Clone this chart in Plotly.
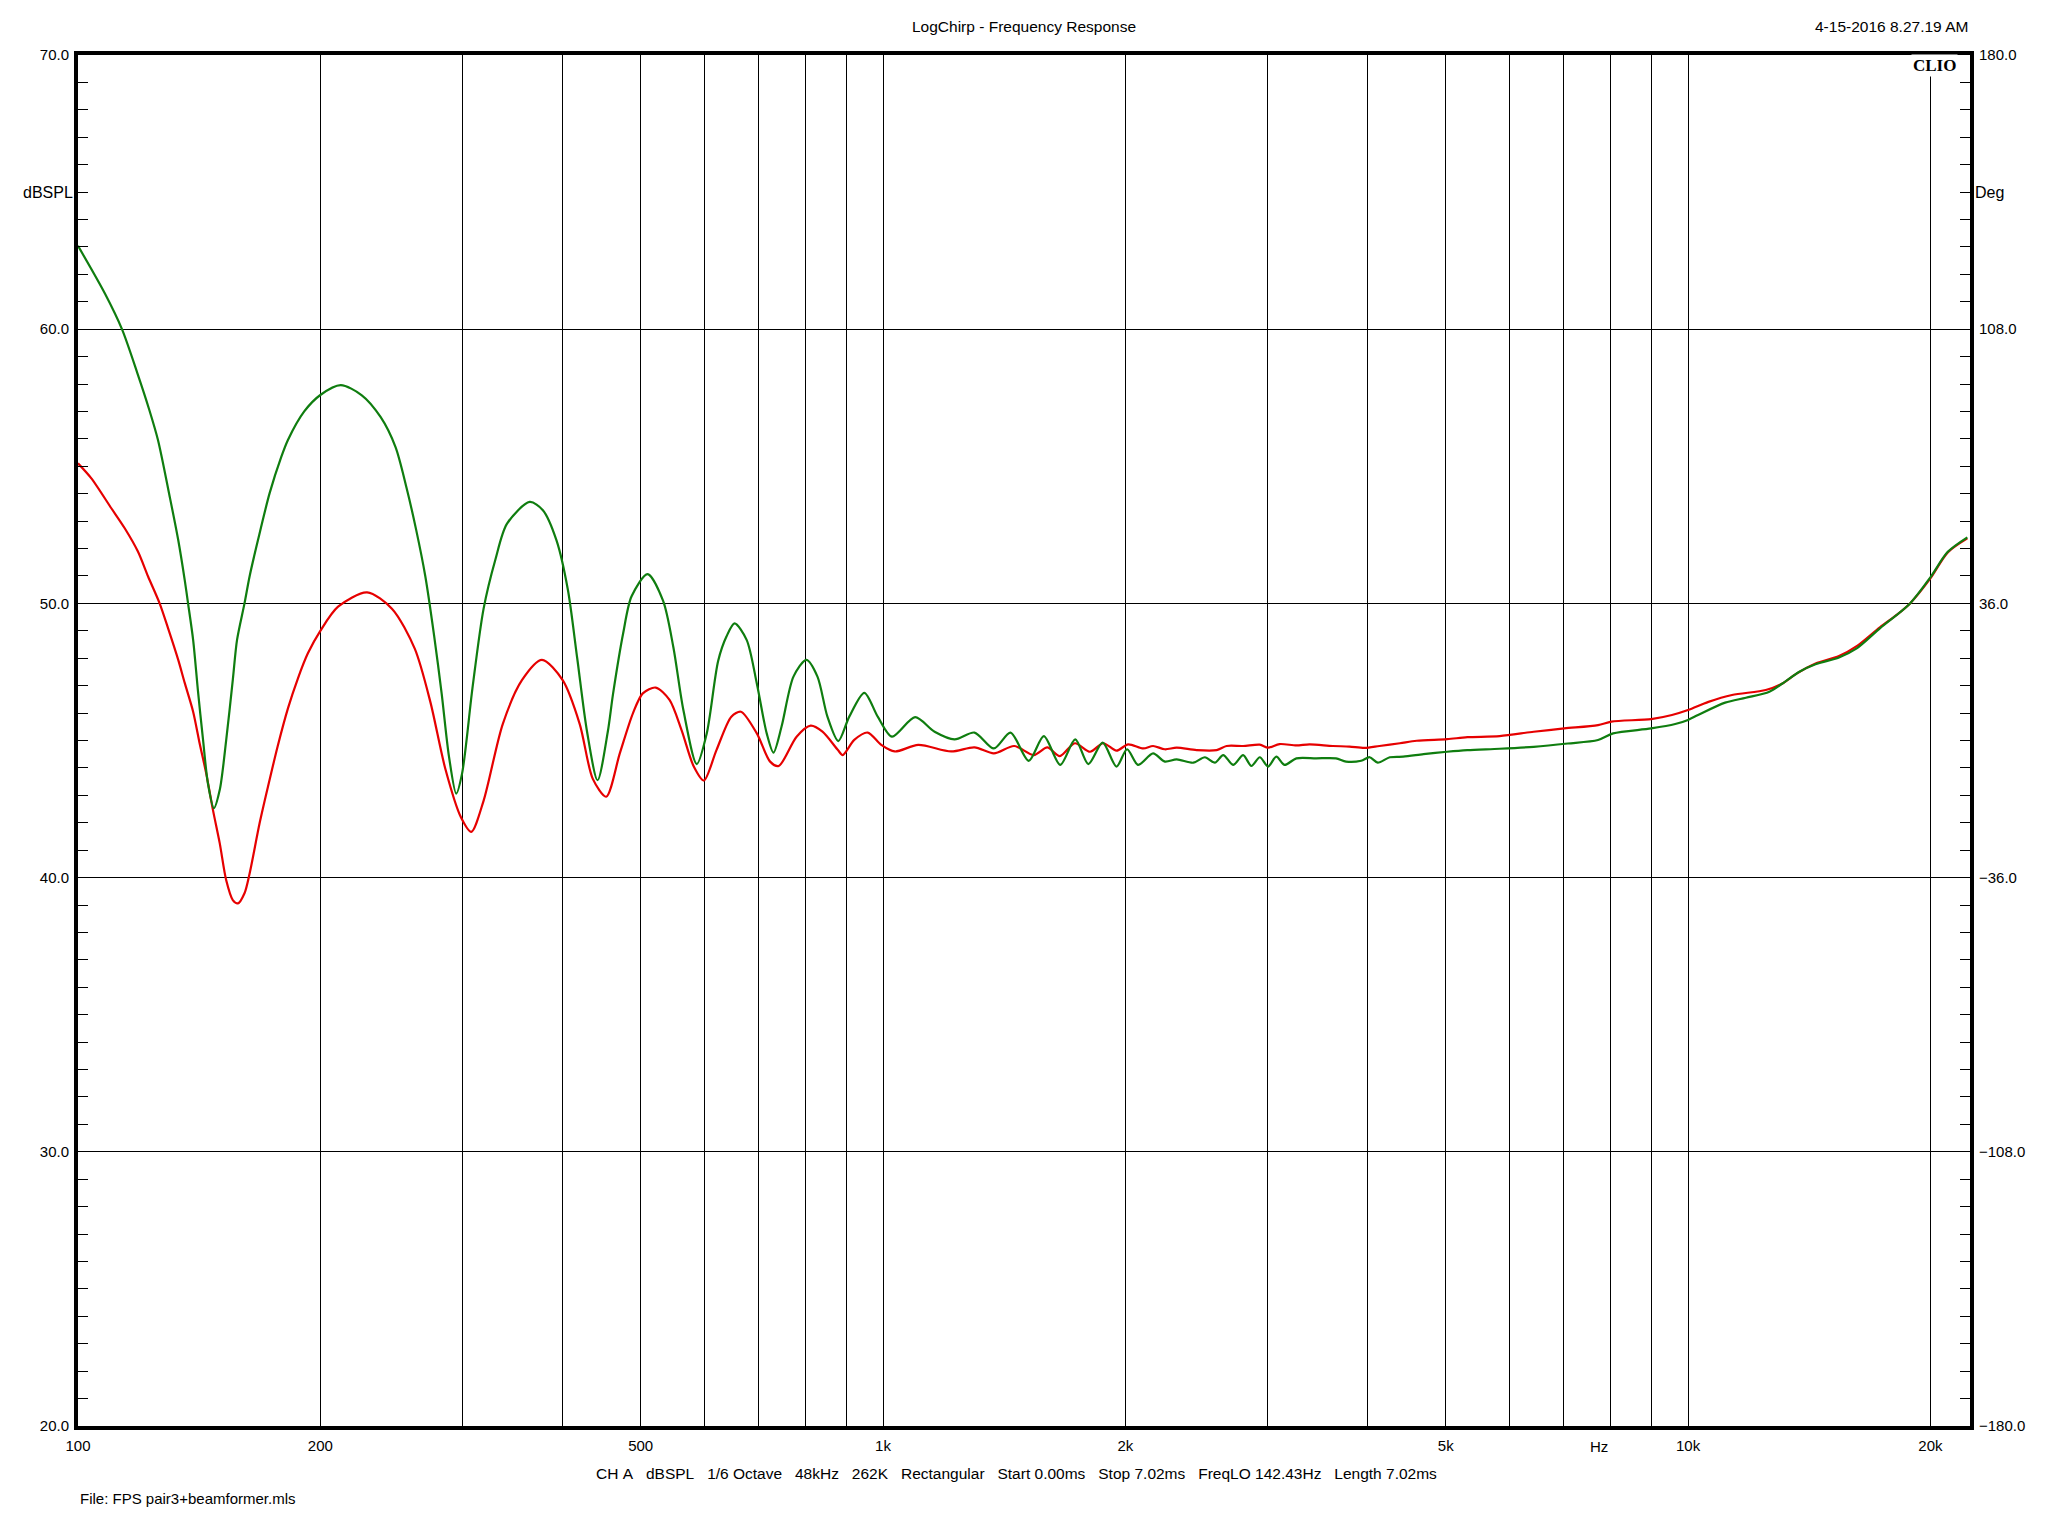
import math
import plotly.graph_objects as go

# green trace (dBSPL vs Hz)
freq_green = [100, 108, 113.4, 118.5, 122.5, 125.7, 130, 133.2, 135.7, 137, 139, 140.9, 143, 145,
              147.5, 150, 152.8, 155.7, 157.6, 161, 163.4, 167.3, 173, 178.9, 182.3, 191, 200, 212, 225,
              237.6, 248, 256, 263, 270, 277, 283, 289, 295, 300, 309, 319, 330, 341, 364, 378,
              393, 406, 417, 429, 442, 455, 462, 475.5, 487, 510, 533, 549, 565, 587, 604, 624,
              639, 654, 677, 697, 717, 731, 748, 774, 803, 829, 853, 880, 908, 948, 985, 1026,
              1096, 1159, 1227, 1299, 1373, 1440, 1517, 1584, 1660, 1733, 1799, 1874, 1950,
              2010, 2074, 2165, 2239, 2316, 2429, 2511, 2584, 2646, 2723, 2801, 2868, 2938,
              3008, 3080, 3154, 3262, 3452, 3653, 3760, 3926, 4023, 4117, 4261, 4427, 4692,
              5020, 5320, 5834, 6430, 7090, 7730, 8070, 9000, 9640, 10000, 10290, 11120,
              11800, 12620, 13100, 13750, 14400, 15400, 16200, 17310, 18870, 20000, 21020, 22230]
spl_green = [63.04, 61.3, 60.0, 58.4, 57.1, 55.96, 53.89, 52.31, 50.85, 50.0, 48.67, 46.84, 45.02, 43.44,
             42.53, 43.2, 45.02, 47.21, 48.67, 50.0, 51.0, 52.3, 54.02, 55.35, 55.96, 57.0, 57.6, 57.96, 57.6,
             56.8, 55.7, 54.2, 52.7, 51.0, 48.8, 46.7, 44.4, 43.06, 43.8, 46.9, 49.8, 51.6, 52.9, 53.7, 53.4,
             52.3, 50.5, 48.0, 45.3, 43.55, 45.3, 46.7, 48.9, 50.25, 51.07, 50.1, 48.4, 46.1, 44.14, 45.26, 47.9,
             48.79, 49.27, 48.67, 47.08, 45.26, 44.56, 45.5, 47.33, 47.94, 47.33, 45.87, 44.98, 45.87, 46.74, 45.87, 45.14,
             45.85, 45.32, 45.04, 45.29, 44.71, 45.29, 44.26, 45.16, 44.11, 45.04, 44.14, 44.92, 44.05,
             44.68, 44.11, 44.53, 44.23, 44.31, 44.19, 44.39, 44.19, 44.47, 44.11, 44.47, 44.07, 44.39,
             44.05, 44.41, 44.11, 44.35, 44.35, 44.35, 44.23, 44.26, 44.39, 44.19, 44.39, 44.41, 44.5,
             44.59, 44.65, 44.7, 44.77, 44.89, 45.02, 45.26, 45.44, 45.6, 45.75, 45.93, 46.38,
             46.56, 46.78, 47.08, 47.51, 47.78, 48.03, 48.36, 49.09, 50.0, 50.95, 51.88, 52.41]

# red trace
freq_red = [100, 103.9, 110, 114.3, 118.7, 122.2, 126.3, 129.4, 133.2, 135.7, 139, 141.6, 144.3,
            147.1, 150, 152.8, 155.7, 158, 161, 163.4, 168.1, 172.2, 177, 182.3, 187.6, 193, 200,
            210.4, 228.6, 245.6, 262, 274, 286, 299, 308, 319, 337, 356, 377, 400, 420, 436, 453,
            471, 489, 503, 522, 543, 562, 582, 599, 621, 648, 666, 697, 724, 742, 781, 813, 841,
            879, 891, 921, 957, 995, 1034, 1106, 1215, 1299, 1373, 1455, 1539, 1600, 1658, 1731,
            1808, 1877, 1950, 2016, 2105, 2165, 2239, 2316, 2452, 2597, 2672, 2801, 2938, 3008,
            3109, 3262, 3387, 3619, 3797, 3964, 4137, 4386, 4601, 5020, 5320, 5834, 6430, 7020,
            7730, 8030, 9000, 9550, 10000, 10600, 11340, 12490, 13100, 13610, 14400, 15400,
            16200, 17310, 18160, 18870, 20000, 21020, 22230]
spl_red = [55.11, 54.56, 53.47, 52.74, 51.89, 50.98, 50.0, 49.09, 47.94, 47.1, 46.05, 44.9, 43.8,
           42.47, 41.25, 39.9, 39.18, 39.06, 39.43, 40.16, 41.98, 43.32, 44.78, 46.17, 47.27, 48.18, 49.0,
           49.88, 50.4, 49.8, 48.35, 46.4, 43.96, 42.2, 41.67, 42.8, 45.6, 47.2, 47.94, 47.2, 45.6, 43.6, 42.95,
           44.53, 45.99, 46.72, 46.93, 46.48, 45.38, 44.05, 43.54, 44.65, 45.87, 46.05, 45.26, 44.23, 44.07, 45.14, 45.54, 45.32,
           44.65, 44.47, 45.02, 45.29, 44.84, 44.6, 44.84, 44.6, 44.75, 44.53, 44.8, 44.47, 44.75, 44.43, 44.9,
           44.59, 44.9, 44.63, 44.86, 44.71, 44.8, 44.68, 44.74, 44.65, 44.65, 44.8, 44.8, 44.85, 44.74,
           44.87, 44.82, 44.86, 44.8, 44.78, 44.73, 44.8, 44.9, 44.99, 45.05, 45.12, 45.16, 45.32, 45.44,
           45.56, 45.69, 45.78, 45.93, 46.11, 46.41, 46.66, 46.84, 47.08, 47.42, 47.81, 48.08,
           48.44, 49.13, 49.58, 50.0, 50.91, 51.86, 52.37]

x_grid = [100, 200, 300, 400, 500, 600, 700, 800, 900, 1000, 2000, 3000, 4000, 5000,
          6000, 7000, 8000, 9000, 10000, 20000]
x_labels = ["100", "200", "", "", "500", "", "", "", "", "1k", "2k", "", "", "5k",
            "", "", "", "", "10k", "20k"]
y_ticks = [20, 30, 40, 50, 60, 70]
deg_ticks = [-180, -108, -36, 36, 108, 180]

FONT = "Liberation Sans"

fig = go.Figure()
fig.add_trace(go.Scatter(x=freq_red, y=spl_red, mode="lines",
                         line=dict(color="#e60000", width=2.2, shape="spline", smoothing=0.8),
                         showlegend=False, hoverinfo="skip"))
fig.add_trace(go.Scatter(x=freq_green, y=spl_green, mode="lines",
                         line=dict(color="#0f7d0f", width=2.2, shape="spline", smoothing=0.8),
                         showlegend=False, hoverinfo="skip"))
# phase axis holder (no phase data shown)
fig.add_trace(go.Scatter(x=[], y=[], yaxis="y2", showlegend=False, hoverinfo="skip"))

# page body has an 8px margin, so margins are shifted to land the plot at 78..1970 x 55..1426
fig.update_layout(
    width=2048, height=1536,
    margin=dict(l=70, r=86, t=47, b=118),
    paper_bgcolor="white", plot_bgcolor="white",
    font=dict(family=FONT, size=15, color="black"),
    xaxis=dict(type="log", range=[2, math.log10(22400)],
               tickvals=x_grid, ticktext=x_labels,
               showgrid=True, gridcolor="black", gridwidth=1.3,
               showline=True, linecolor="black", linewidth=4, mirror=True,
               ticks="", ticklabelstandoff=3, zeroline=False),
    yaxis=dict(range=[20, 70], tickvals=y_ticks, tickformat=".1f",
               showgrid=True, gridcolor="black", gridwidth=1.3,
               showline=True, linecolor="black", linewidth=4, mirror=True,
               ticks="inside", ticklen=10, tickwidth=1.3, tickcolor="black",
               minor=dict(dtick=1, ticks="inside", ticklen=10, tickwidth=1.3,
                          tickcolor="black", showgrid=False),
               ticklabelstandoff=2, zeroline=False),
    yaxis2=dict(range=[-180, 180], tickvals=deg_ticks, tickformat=".1f",
                overlaying="y", side="right", showgrid=False,
                showline=True, linecolor="black", linewidth=4,
                ticks="inside", ticklen=10, tickwidth=1.3, tickcolor="black",
                minor=dict(dtick=7.2, ticks="inside", ticklen=10, tickwidth=1.3,
                           tickcolor="black", showgrid=False),
                ticklabelstandoff=2, zeroline=False),
)

fig.add_annotation(text="LogChirp - Frequency Response", xref="paper", yref="paper",
                   x=0.5, y=1.021, showarrow=False, xanchor="center", yanchor="middle",
                   font=dict(size=15.5))
fig.add_annotation(text="4-15-2016 8.27.19 AM", xref="paper", yref="paper",
                   x=1, y=1.021, showarrow=False, xanchor="right", yanchor="middle",
                   font=dict(size=15.5))
fig.add_annotation(text="<b>CLIO</b>", xref="paper", yref="paper",
                   x=0.9935, y=0.992, showarrow=False, xanchor="right", yanchor="middle",
                   font=dict(family="Liberation Serif", size=17), bgcolor="white")
fig.add_annotation(text="dBSPL", xref="paper", yref="y", x=0, y=65, showarrow=False,
                   xanchor="right", yanchor="middle", xshift=-3, font=dict(size=16))
fig.add_annotation(text="Deg", xref="paper", yref="y2", x=1, y=144, showarrow=False,
                   xanchor="left", yanchor="middle", xshift=3, font=dict(size=16))
fig.add_annotation(text="Hz", xref="x", yref="paper", x=math.log10(7760), y=-0.0146,
                   showarrow=False, xanchor="center", yanchor="middle")

gap = "\u00a0" * 3
info = gap.join(["CH A", "dBSPL", "1/6 Octave", "48kHz", "262K", "Rectangular",
                 "Start 0.00ms", "Stop 7.02ms", "FreqLO 142.43Hz", "Length 7.02ms"])
fig.add_annotation(text=info.replace(" ", "\u00a0"), xref="paper", yref="paper",
                   x=0.4958, y=-0.0343, showarrow=False, xanchor="center", yanchor="middle",
                   font=dict(size=15.5))
fig.add_annotation(text="File: FPS pair3+beamformer.mls", xref="paper", yref="paper",
                   x=0, y=-0.053, showarrow=False, xanchor="left", yanchor="middle")

fig.write_html("out.html")
